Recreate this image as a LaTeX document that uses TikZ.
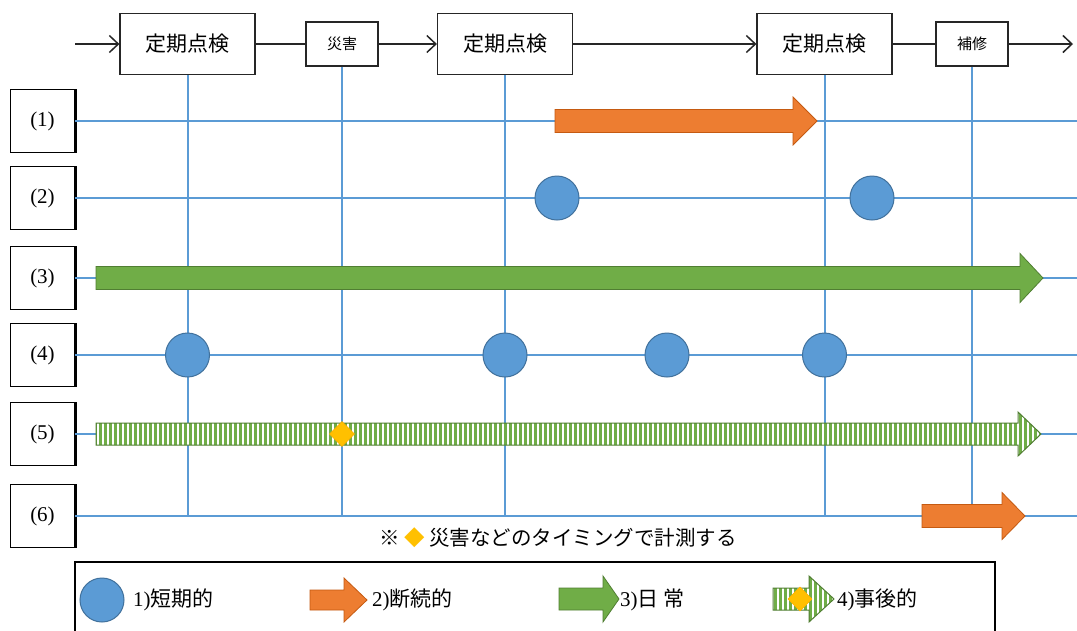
\documentclass[tikz,border=0pt]{standalone}
\usepackage{fontspec}
\setmainfont{Liberation Serif}
\newfontfamily\jp{Noto Sans CJK JP}
\usetikzlibrary{arrows.meta,patterns.meta,shapes.geometric}
\definecolor{lineblue}{HTML}{5B9BD5}
\definecolor{dotblue}{HTML}{5B9BD5}
\definecolor{dotedge}{HTML}{41719C}
\definecolor{orng}{HTML}{ED7D31}
\definecolor{orngedge}{HTML}{C55A11}
\definecolor{grn}{HTML}{70AD47}
\definecolor{grnedge}{HTML}{507E32}
\definecolor{ylw}{HTML}{FFC000}
\newcommand\blkarrow[7]{%
  \draw[#1] (#2,#5-#6) -- (#3,#5-#6) -- (#3,#5-#7) -- (#4,#5) -- (#3,#5+#7) -- (#3,#5+#6) -- (#2,#5+#6) -- cycle;}
\tikzset{
  topbox/.style={draw=black!85, line width=1.2pt, fill=white, minimum width=135pt, minimum height=61pt, inner sep=0pt, font=\jp\fontsize{21}{21}\selectfont},
  smallbox/.style={draw=black!85, line width=1.2pt, fill=white, minimum width=72pt, minimum height=44pt, inner sep=0pt, font=\jp\fontsize{15}{15}\selectfont},
  labbox/.style={draw=black, line width=0.9pt, minimum width=65pt, minimum height=63pt, inner sep=0pt, font=\fontsize{21}{21}\selectfont},
  tline/.style={draw=black!85, line width=1.5pt},
  tarrow/.style={tline, -{Straight Barb[length=9pt,width=17pt,line width=1.5pt]}},
  grid/.style={draw=lineblue, line width=2pt},
  dot/.style={circle, fill=dotblue, draw=dotedge, line width=1pt, minimum size=44pt, inner sep=0pt},
  diam/.style={diamond, fill=ylw, draw=ylw!80!orange, line width=0.6pt, minimum size=25pt, inner sep=0pt},
  orarrow/.style={fill=orng, draw=orngedge, line width=0.8pt},
  grarrow/.style={fill=grn, draw=grnedge, line width=0.8pt},
  hatarrow/.style={preaction={fill=white}, pattern={Lines[angle=90,distance=5pt,line width=3pt]}, pattern color=grn, draw=grnedge, line width=1pt},
  legtext/.style={anchor=west, inner sep=0pt, font=\fontsize{21}{21}\selectfont},
}
\begin{document}
\begin{tikzpicture}[x=1pt,y=-1pt]
\useasboundingbox[fill=white] (0,0) rectangle (1077,630);
% top timeline
\node[topbox] (k1) at (187.5,44) {定期点検};
\node[smallbox] (dis) at (342,44) {災害};
\node[topbox] (k2) at (505,44) {定期点検};
\node[topbox] (k3) at (824.5,44) {定期点検};
\node[smallbox] (rep) at (972,44) {補修};
\coordinate (s) at (75,44);
\coordinate (e) at (1073,44);
\draw[tarrow] (s) -- (k1);
\draw[tline] (k1) -- (dis);
\draw[tarrow] (dis) -- (k2);
\draw[tarrow] (k2) -- (k3);
\draw[tline] (k3) -- (rep);
\draw[tarrow] (rep) -- (e);
% row labels
\foreach \i/\y in {1/121,2/198,3/278,4/355,5/434,6/516}{
  \node[labbox] (r\i) at (42.5,\y) {(\i)};
  \draw[line width=2.6pt] (r\i.north east) -- (r\i.south east);
  \coordinate (re\i) at (1077,\y);
  \draw[grid] (r\i) -- (re\i);
}
% vertical lines
\coordinate (v1) at (187.5,516);
\coordinate (v2) at (342,516);
\coordinate (v3) at (505,516);
\coordinate (v4) at (824.5,516);
\coordinate (v5) at (972,516);
\draw[grid] (k1) -- (v1);
\draw[grid,line width=1.5pt] (dis) -- (v2);
\draw[grid] (k2) -- (v3);
\draw[grid] (k3) -- (v4);
\draw[grid] (rep) -- (v5);
% row 1
\blkarrow{orarrow}{555}{793}{817}{121}{11.5}{24}
% row 2
\node[dot] (c21) at (557,198) {};
\node[dot] (c22) at (872,198) {};
% row 3
\blkarrow{grarrow}{96}{1020}{1043}{278}{11.5}{24.5}
% row 4
\node[dot] (c41) at (187.5,355) {};
\node[dot] (c42) at (505,355) {};
\node[dot] (c43) at (667,355) {};
\node[dot] (c44) at (824.5,355) {};
% row 5
\blkarrow{hatarrow}{96}{1018}{1041}{434}{11}{22}
\node[diam] (d5) at (342,434) {};
% row 6
\blkarrow{orarrow}{922}{1002}{1025}{516}{11.5}{23.5}
% note
\node[inner sep=0pt, font=\jp\fontsize{20.5}{20.5}\selectfont] (note) at (558,538) {※ {\color{ylw}◆} 災害などのタイミングで計測する};
% legend
\draw[line width=1.5pt] (75,640) -- (75,562) -- (995,562) -- (995,640);
\node[dot] (l1) at (102,600) {};
\node[legtext] (t1) at (133,600) {1){\jp 短期的}};
\blkarrow{orarrow}{310}{344}{367}{600}{10}{22}
\node[legtext] (t2) at (372,600) {2){\jp 断続的}};
\blkarrow{grarrow}{559}{603}{619}{599}{11}{23}
\node[legtext] (t3) at (620,600) {3){\jp 日 常}};
\blkarrow{hatarrow}{773}{809}{834}{599}{11}{23}
\node[diam, minimum size=24pt] (l4) at (800,599) {};
\node[legtext] (t4) at (837,600) {4){\jp 事後的}};
\end{tikzpicture}
\end{document}
